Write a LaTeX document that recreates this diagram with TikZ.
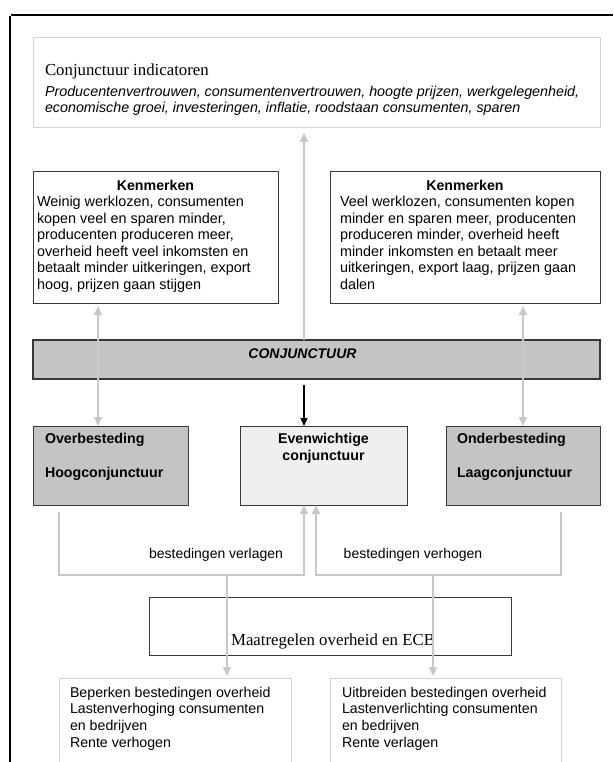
\documentclass[tikz,border=0pt]{standalone}
\usepackage{fontspec}
\setmainfont{Liberation Serif}
\setsansfont{Liberation Sans}
\usetikzlibrary{arrows.meta}

\definecolor{paleedge}{HTML}{D2D2D2}
\definecolor{darkedge}{HTML}{383838}
\definecolor{barfill}{HTML}{C4C4C4}
\definecolor{calmfill}{HTML}{EFEFEF}
\definecolor{linkgray}{HTML}{C8C8C8}

\tikzset{
  panel/.style={rectangle, inner sep=0pt, outer sep=0pt, anchor=north west},
  palebox/.style={panel, draw=paleedge, line width=1pt, fill=white},
  darkbox/.style={panel, draw=darkedge, line width=1pt, fill=white},
  graybox/.style={panel, draw=darkedge, line width=1.3pt, fill=barfill},
  calmbox/.style={panel, draw=darkedge, line width=1pt, fill=calmfill},
  label/.style={inner sep=0pt, outer sep=0pt},
  bodytext/.style={label, font=\sffamily\fontsize{14.4}{16.5}\selectfont, align=left, anchor=north west},
  seriftext/.style={label, font=\rmfamily\fontsize{16.8}{19}\selectfont},
  boldtext/.style={label, font=\sffamily\bfseries\fontsize{14.2}{16.5}\selectfont},
  glink/.style={draw=linkgray, line width=2pt},
  gtip/.style={-{Triangle[width=8pt,length=9pt]}},
  gtips/.style={{Triangle[width=8pt,length=9pt]}-{Triangle[width=8pt,length=9pt]}},
  ktip/.style={-{Triangle[width=7pt,length=8pt]}},
}

\begin{document}
\begin{tikzpicture}[x=1pt,y=-1pt]
\useasboundingbox (0,0) rectangle (613,762);
\fill[white] (0,0) rectangle (613,762);

% page frame corner
\draw[line width=2pt] (10,16) -- (10,762);
\draw[line width=1.8pt] (11,15.2) -- (613,15.2);

% column positions of the connectors
\coordinate (colL) at (98,0);
\coordinate (colC) at (304,0);
\coordinate (colC2) at (316,0);
\coordinate (colR) at (523,0);
\coordinate (brL) at (59,0);
\coordinate (brR) at (561,0);
\coordinate (downL) at (227,0);
\coordinate (downR) at (433,0);
\coordinate (brBase) at (0,575);

% indicator box
\node[palebox, minimum width=567pt, minimum height=90pt] (ind) at (33,38) {};
\node[seriftext, anchor=base west] (indtitle) at (45,76) {Conjunctuur indicatoren};
\node[bodytext, font=\sffamily\itshape\fontsize{14.3}{16}\selectfont] (indlist) at (45,86.5)
  {Producentenvertrouwen, consumentenvertrouwen, hoogte prijzen, werkgelegenheid,\\
   economische groei, investeringen, inflatie, roodstaan consumenten, sparen};

% characteristics boxes
\node[darkbox, minimum width=245pt, minimum height=131pt] (kenL) at (33,172) {};
\node[darkbox, minimum width=270pt, minimum height=131pt] (kenR) at (330,172) {};
\node[boldtext, anchor=base] (kenLt) at (155.5,190) {Kenmerken};
\node[boldtext, anchor=base] (kenRt) at (465,190) {Kenmerken};
\node[bodytext] (kenLb) at (37,196.3)
  {Weinig werklozen, consumenten\\
   kopen veel en sparen minder,\\
   producenten produceren meer,\\
   overheid heeft veel inkomsten en\\
   betaalt minder uitkeringen, export\\
   hoog, prijzen gaan stijgen};
\node[bodytext] (kenRb) at (340,196.3)
  {Veel werklozen, consumenten kopen\\
   minder en sparen meer, producenten\\
   produceren minder, overheid heeft\\
   minder inkomsten en betaalt meer\\
   uitkeringen, export laag, prijzen gaan\\
   dalen};

% business cycle bar
\node[graybox, minimum width=567pt, minimum height=39pt] (bar) at (33,340) {};
\node[boldtext, font=\sffamily\bfseries\itshape\fontsize{14}{16.5}\selectfont, anchor=base] (bart) at (302.5,358) {CONJUNCTUUR};

% cycle states
\node[graybox, line width=1pt, minimum width=155pt, minimum height=79pt] (overL) at (33,426) {};
\node[calmbox, minimum width=167pt, minimum height=79pt] (even) at (240,426) {};
\node[graybox, line width=1pt, minimum width=154pt, minimum height=79pt] (underR) at (446,426) {};
\node[boldtext, anchor=base west] (overLa) at (45,443) {Overbesteding};
\node[boldtext, anchor=base west] (overLb) at (45,477) {Hoogconjunctuur};
\node[boldtext, anchor=base] (evena) at (323.5,443) {Evenwichtige};
\node[boldtext, anchor=base] (evenb) at (323.5,460) {conjunctuur};
\node[boldtext, anchor=base west] (underRa) at (457,443) {Onderbesteding};
\node[boldtext, anchor=base west] (underRb) at (457,477) {Laagconjunctuur};

% measures box and resulting actions
\node[darkbox, line width=0.9pt, minimum width=362pt, minimum height=58pt] (maat) at (149,597) {};
\node[seriftext, anchor=base] (maatt) at (333,645) {Maatregelen overheid en ECB};
\node[palebox, minimum width=232pt, minimum height=100pt] (actL) at (59,678) {};
\node[palebox, minimum width=231pt, minimum height=100pt] (actR) at (330,678) {};
\node[bodytext, font=\sffamily\fontsize{14.2}{16.7}\selectfont] (actLt) at (70,686.8)
  {Beperken bestedingen overheid\\
   Lastenverhoging consumenten\\
   en bedrijven\\
   Rente verhogen};
\node[bodytext, font=\sffamily\fontsize{14.2}{16.7}\selectfont] (actRt) at (342,686.8)
  {Uitbreiden bestedingen overheid\\
   Lastenverlichting consumenten\\
   en bedrijven\\
   Rente verlagen};

% connectors around the bar
\draw[glink, gtip, shorten >=5pt] (bar.north -| colC) -- (ind.south -| colC);
\draw[glink, gtips, shorten <=3pt] (kenL.south -| colL) -- (overL.north -| colL);
\draw[glink, gtips, shorten <=3pt] (kenR.south -| colR) -- (underR.north -| colR);
\draw[line width=1.4pt, ktip, shorten <=6pt] (bar.south -| colC) -- (even.north -| colC);

% spending brackets back to equilibrium
\draw[glink, line width=1.6pt, gtip] ([yshift=-7pt]overL.south -| brL) |- (brBase -| downL) -| (even.south -| colC);
\draw[glink, line width=1.6pt, gtip] ([yshift=-7pt]underR.south -| brR) |- (brBase -| downR) -| (even.south -| colC2);
\node[label, font=\sffamily\fontsize{14}{16.5}\selectfont, anchor=base] (lowerlab) at (216,558) {bestedingen verlagen};
\node[label, font=\sffamily\fontsize{14}{16.5}\selectfont, anchor=base] (raiselab) at (413,558) {bestedingen verhogen};

% measures leading to actions
\draw[glink, gtip, shorten >=2pt] (brBase -| downL) -- (actL.north -| downL);
\draw[glink, gtip, shorten >=2pt] (brBase -| downR) -- (actR.north -| downR);
\end{tikzpicture}
\end{document}
